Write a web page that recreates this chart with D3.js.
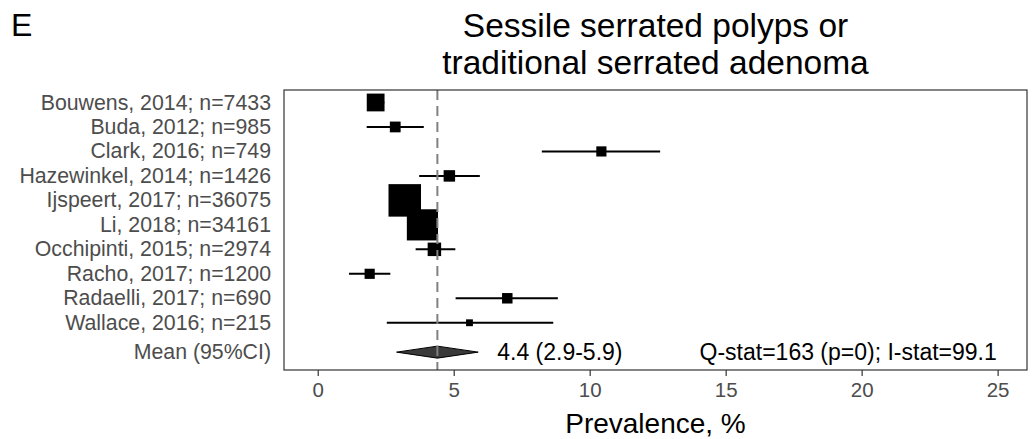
<!DOCTYPE html>
<html>
<head>
<meta charset="utf-8">
<script src="https://cdn.jsdelivr.net/npm/d3@7"></script>
<style>
  html, body { margin: 0; padding: 0; background: #fff; }
  svg { display: block; font-family: "Liberation Sans", Arial, sans-serif; }
</style>
</head>
<body>
<svg id="chart" width="1033" height="439"></svg>
<script>
// Study labels, prevalence estimates (%), 95% confidence bounds and relative weights (%)
const studies = [
  "Bouwens, 2014; n=7433",
  "Buda, 2012; n=985",
  "Clark, 2016; n=749",
  "Hazewinkel, 2014; n=1426",
  "Ijspeert, 2017; n=36075",
  "Li, 2018; n=34161",
  "Occhipinti, 2015; n=2974",
  "Racho, 2017; n=1200",
  "Radaelli, 2017; n=690",
  "Wallace, 2016; n=215"
];
const prevalence = [2.13, 2.85, 10.43, 4.84, 3.20, 3.85, 4.29, 1.91, 6.97, 5.58];
const lower      = [1.85, 1.80, 8.24, 3.73, 2.95, 3.60, 3.60, 1.15, 5.07, 2.54];
const upper      = [2.45, 3.90, 12.59, 5.96, 3.45, 4.10, 5.06, 2.67, 8.83, 8.66];
const weights    = [10.1, 3.7, 3.3, 4.2, 33.7, 31.0, 5.8, 3.3, 3.5, 1.5];

const pooled = { mean: 4.4, lo: 2.9, hi: 5.9 };
const pooledLabel = "4.4 (2.9-5.9)";
const heteroLabel = "Q-stat=163 (p=0); I-stat=99.1";
const meanRowLabel = "Mean (95%CI)";
const xTicks = [0, 5, 10, 15, 20, 25];
const titleLines = ["Sessile serrated polyps or", "traditional serrated adenoma"];
const panelTag = "E";
const xTitle = "Prevalence, %";

const svg = d3.select("#chart");

const panel = { left: 284, right: 1027, top: 90, bottom: 370 };
const meanPos = 10.2;

const x = d3.scaleLinear().domain([-1.24, 26.08]).range([panel.left, panel.right]);
const y = d3.scaleLinear().domain([-0.51, 10.93]).range([panel.top, panel.bottom]);
const size = d3.scaleSqrt().domain([0, d3.max(weights)]).range([0, 32.5]);

const rows = studies.map((s, i) => ({
  label: s, est: prevalence[i], lo: lower[i], hi: upper[i], w: weights[i], pos: i
}));

// Panel tag and title
svg.append("text").attr("x", 11).attr("y", 36)
  .attr("font-size", 32).attr("fill", "#000").text(panelTag);

svg.append("g").selectAll("text").data(titleLines).join("text")
  .attr("x", (panel.left + panel.right) / 2)
  .attr("y", (d, i) => 37 + i * 37)
  .attr("text-anchor", "middle")
  .attr("font-size", 33.5)
  .attr("fill", "#000")
  .text(d => d);

// Confidence intervals
const g = svg.append("g");
g.selectAll("line.ci").data(rows).join("line")
  .attr("class", "ci")
  .attr("x1", d => x(d.lo)).attr("x2", d => x(d.hi))
  .attr("y1", d => y(d.pos)).attr("y2", d => y(d.pos))
  .attr("stroke", "#000").attr("stroke-width", 2);

// Weighted point estimates
g.selectAll("rect.pt").data(rows).join("rect")
  .attr("class", "pt")
  .attr("x", d => x(d.est) - size(d.w) / 2)
  .attr("y", d => y(d.pos) - size(d.w) / 2)
  .attr("width", d => size(d.w))
  .attr("height", d => size(d.w))
  .attr("fill", "#000");

// Pooled estimate diamond
const dh = 6;
g.append("path")
  .attr("d", `M${x(pooled.lo)},${y(meanPos)} L${x(pooled.mean)},${y(meanPos) - dh} L${x(pooled.hi)},${y(meanPos)} L${x(pooled.mean)},${y(meanPos) + dh} Z`)
  .attr("fill", "#3a3a3a").attr("stroke", "#000").attr("stroke-width", 1);

// Reference line at the pooled mean
g.append("line")
  .attr("x1", x(pooled.mean)).attr("x2", x(pooled.mean))
  .attr("y1", panel.top).attr("y2", panel.bottom)
  .attr("stroke", "#808080").attr("stroke-width", 2)
  .attr("stroke-dasharray", "10,6");

// Annotations on the pooled row
svg.append("text")
  .attr("x", x(6.6)).attr("y", y(meanPos)).attr("dy", "0.35em")
  .attr("font-size", 23).attr("fill", "#000").text(pooledLabel);
svg.append("text")
  .attr("x", x(14.04)).attr("y", y(meanPos)).attr("dy", "0.35em")
  .attr("font-size", 23).attr("fill", "#000").text(heteroLabel);

// Panel border
svg.append("rect")
  .attr("x", panel.left).attr("y", panel.top)
  .attr("width", panel.right - panel.left).attr("height", panel.bottom - panel.top)
  .attr("fill", "none").attr("stroke", "#333").attr("stroke-width", 1.2);

// Row labels
svg.append("g").selectAll("text").data(rows.map(r => ({ t: r.label, pos: r.pos })).concat([{ t: meanRowLabel, pos: meanPos }]))
  .join("text")
  .attr("x", 271).attr("y", d => y(d.pos)).attr("dy", "0.33em")
  .attr("text-anchor", "end")
  .attr("font-size", 21.3).attr("fill", "#4d4d4d")
  .text(d => d.t);

// X axis
const xAxis = svg.append("g")
  .attr("transform", `translate(0,${panel.bottom})`)
  .call(d3.axisBottom(x).tickValues(xTicks).tickSize(6).tickPadding(6).tickFormat(d3.format("d")));
xAxis.select(".domain").remove();
xAxis.selectAll(".tick line").attr("stroke", "#333").attr("stroke-width", 1.2);
xAxis.selectAll(".tick text")
  .attr("font-size", 20.5).attr("fill", "#4d4d4d")
  .attr("font-family", "Liberation Sans, Arial, sans-serif");

svg.append("text")
  .attr("x", (panel.left + panel.right) / 2).attr("y", 433)
  .attr("text-anchor", "middle").attr("font-size", 28).attr("fill", "#000")
  .text(xTitle);
</script>
</body>
</html>
